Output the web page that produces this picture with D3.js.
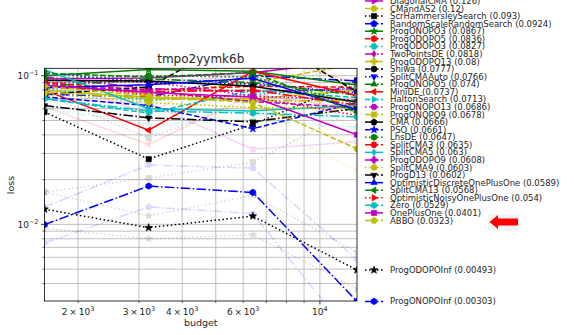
<!DOCTYPE html>
<html lang="en">
<head>
<meta charset="UTF-8">
<title>tmpo2yymk6b</title>
<script src="https://d3js.org/d3.v7.min.js"></script>
<style>
  body { margin: 0; background: #fff; }
  svg { display: block; font-family: "DejaVu Sans", sans-serif; }
</style>
</head>
<body>
<svg id="chart" width="574" height="335"></svg>
<script>
// budgets on the x axis
const budgets = [1600, 3200, 6400, 12800];

// algorithms, in legend order
const algoNames = [
  "DiagonalCMA", "CMandAS2", "ScrHammersleySearch", "RandomScaleRandomSearch",
  "ProgONOPO3", "ProgODOPO5", "ProgODOPO3", "TwoPointsDE", "ProgODOPO13", "Shiwa",
  "SplitCMAAuto", "ProgONOPO5", "MiniDE", "HaltonSearch", "ProgONOPO13", "ProgONOPO9",
  "CMA", "PSO", "LhsDE", "SplitCMA3", "SplitCMA5", "ProgODOPO9", "SplitCMA9", "ProgD13",
  "OptimisticDiscreteOnePlusOne", "SplitCMA13", "OptimisticNoisyOnePlusOne", "Zero",
  "OnePlusOne", "ABBO", "ProgODOPOInf", "ProgONOPOInf"
];

// mean loss per budget, one row per algorithm (last value is the legend score)
const lossValues = [
  [0.095, 0.0965, 0.105, 0.126],
  [0.088, 0.075, 0.09, 0.12],
  [0.057, 0.0275, 0.047, 0.093],
  [0.075, 0.072, 0.1, 0.0924],
  [0.1, 0.11, 0.107, 0.0867],
  [0.09, 0.08, 0.085, 0.0836],
  [0.082, 0.068, 0.075, 0.0827],
  [0.098, 0.082, 0.078, 0.0818],
  [0.08, 0.071, 0.07, 0.08],
  [0.075, 0.084, 0.2, 0.0777],
  [0.105, 0.09, 0.088, 0.0766],
  [0.085, 0.095, 0.09, 0.074],
  [0.08, 0.043, 0.107, 0.0737],
  [0.07, 0.056, 0.08, 0.0713],
  [0.09, 0.091, 0.073, 0.0686],
  [0.078, 0.07, 0.068, 0.0678],
  [0.093, 0.092, 0.085, 0.0666],
  [0.072, 0.063, 0.044, 0.0661],
  [0.095, 0.1, 0.098, 0.0647],
  [0.084, 0.078, 0.08, 0.0635],
  [0.11, 0.06, 0.058, 0.063],
  [0.087, 0.079, 0.067, 0.0608],
  [0.076, 0.066, 0.061, 0.0603],
  [0.063, 0.052, 0.049, 0.0602],
  [0.083, 0.087, 0.096, 0.0589],
  [0.104, 0.098, 0.105, 0.0568],
  [0.09, 0.074, 0.072, 0.054],
  [0.07, 0.058, 0.056, 0.0529],
  [0.086, 0.077, 0.072, 0.0401],
  [0.085, 0.073, 0.066, 0.0323],
  [0.01265, 0.0095, 0.01137, 0.00493],
  [0.00996, 0.0181, 0.0164, 0.00303]
];

// faint spread curves drawn behind some algorithms
const bandNames = ["ProgONOPOInf", "ProgODOPOInf", "ScrHammersleySearch", "MiniDE", "OnePlusOne", "ABBO", "Zero"];
const bandUpper = [
  [0.0131, 0.0251, 0.0239, 0.0058],
  [0.0165, 0.0114, 0.0157, 0.0065],
  [0.075, 0.038, 0.07, 0.13],
  [0.1, 0.055, 0.14, 0.09],
  [0.1, 0.09, 0.1, 0.06],
  [0.1, 0.09, 0.09, 0.045],
  [0.085, 0.07, 0.068, 0.062]
];
const bandLower = [
  [0.0075, 0.0131, 0.0118, 0.0016],
  [0.0094, 0.008, 0.0085, 0.0037],
  [0.0165, 0.0205, 0.0262, 0.06],
  [0.062, 0.0345, 0.075, 0.06],
  [0.07, 0.065, 0.032, 0.036],
  [0.07, 0.058, 0.05, 0.0232],
  [0.06, 0.047, 0.05, 0.045]
];

// axis limits and labelled ticks
const xLimits = [1600, 12800];
const yLimits = [0.00305, 0.1122];
const xLabelTicks = [2000, 3000, 4000, 6000, 10000];
const highlighted = "ABBO";

// style cycles (matplotlib-like)
const colorCycle = ["#bf00bf", "#bfbf00", "#000000", "#0000ff", "#008000", "#ff0000", "#00bfbf"];
const dashCycle = ["", "5.55,2.4", "1.5,2.5", "9.6,2.4,1.5,2.4"];
const markerCycle = ["v", "^", "<", ">", "8", "s", "p", "*", "h", "H", "d", "P", "o"];
const styleOf = i => ({
  color: colorCycle[i % 7],
  dash: dashCycle[i % 4],
  marker: markerCycle[((i - 10) % 13 + 13) % 13]
});

const svg = d3.select("#chart");
const W = 574, H = 335;
const plot = { left: 44.5, right: 357, top: 68.3, bottom: 301 };

const x = d3.scaleLog().domain(xLimits).range([plot.left, plot.right]);
const y = d3.scaleLog().domain(yLimits).range([plot.bottom, plot.top]);

svg.append("rect").attr("width", W).attr("height", H).attr("fill", "#fff");

svg.append("defs").append("clipPath").attr("id", "plotclip")
  .append("rect")
  .attr("x", plot.left).attr("y", plot.top)
  .attr("width", plot.right - plot.left).attr("height", plot.bottom - plot.top);

// grid, major and minor
const grid = svg.append("g").attr("stroke", "#b0b0b0").attr("stroke-width", 0.8);
x.ticks().forEach(t => {
  grid.append("line").attr("x1", x(t)).attr("x2", x(t)).attr("y1", plot.top).attr("y2", plot.bottom);
});
y.ticks().forEach(t => {
  grid.append("line").attr("y1", y(t)).attr("y2", y(t)).attr("x1", plot.left).attr("x2", plot.right);
});

function markerPath(m, r) {
  const poly = (n, rot, rad) => d3.range(n).map(k => {
    const a = rot + 2 * Math.PI * k / n;
    return [rad * Math.sin(a), -rad * Math.cos(a)];
  });
  let pts;
  switch (m) {
    case "o": return d3.symbol(d3.symbolCircle, Math.PI * r * r)();
    case "s": pts = poly(4, Math.PI / 4, r * 1.25); break;
    case "^": pts = poly(3, 0, r * 1.25); break;
    case "v": pts = poly(3, Math.PI, r * 1.25); break;
    case "<": pts = poly(3, -Math.PI / 2, r * 1.25); break;
    case ">": pts = poly(3, Math.PI / 2, r * 1.25); break;
    case "p": pts = poly(5, 0, r * 1.15); break;
    case "h": pts = poly(6, 0, r * 1.1); break;
    case "H": pts = poly(6, Math.PI / 6, r * 1.1); break;
    case "8": pts = poly(8, Math.PI / 8, r * 1.05); break;
    case "*": pts = d3.range(10).map(k => {
      const a = Math.PI * k / 5, rad = k % 2 ? r * 0.55 : r * 1.35;
      return [rad * Math.sin(a), -rad * Math.cos(a)];
    }); break;
    case "d": pts = [[0, -r * 1.2], [r * 0.7, 0], [0, r * 1.2], [-r * 0.7, 0]]; break;
    case "P": {
      const a = r * 1.1, b = r * 0.4;
      pts = [[-b, -a], [b, -a], [b, -b], [a, -b], [a, b], [b, b], [b, a], [-b, a], [-b, b], [-a, b], [-a, -b], [-b, -b]];
      break;
    }
    default: return d3.symbol(d3.symbolCircle, Math.PI * r * r)();
  }
  return "M" + pts.map(p => p.map(v => v.toFixed(2)).join(",")).join("L") + "Z";
}

const line = d3.line().x((d, i) => x(budgets[i])).y(d => y(d));
const plotArea = svg.append("g").attr("clip-path", "url(#plotclip)");

function drawSeries(g, values, st, opacity) {
  const s = g.append("g").attr("opacity", opacity);
  s.append("path")
    .attr("d", line(values))
    .attr("fill", "none")
    .attr("stroke", st.color)
    .attr("stroke-width", 1.5)
    .attr("stroke-dasharray", st.dash || null);
  s.selectAll("path.mk")
    .data(values)
    .join("path")
    .attr("class", "mk")
    .attr("transform", (d, i) => `translate(${x(budgets[i])},${y(d)})`)
    .attr("d", markerPath(st.marker, 3))
    .attr("fill", st.color)
    .attr("stroke", st.color)
    .attr("stroke-width", 0.6);
}

// faint spread curves first
bandNames.forEach((name, b) => {
  const st = styleOf(algoNames.indexOf(name));
  drawSeries(plotArea, bandUpper[b], st, 0.15);
  drawSeries(plotArea, bandLower[b], st, 0.15);
});

lossValues.forEach((vals, i) => drawSeries(plotArea, vals, styleOf(i), 1));

// spines
svg.append("rect")
  .attr("x", plot.left).attr("y", plot.top)
  .attr("width", plot.right - plot.left).attr("height", plot.bottom - plot.top)
  .attr("fill", "none").attr("stroke", "#000").attr("stroke-width", 0.8);

const isPow10 = v => Math.abs(Math.log10(v) - Math.round(Math.log10(v))) < 1e-9;

// x ticks
const xt = svg.append("g");
x.ticks().forEach(t => {
  const len = isPow10(t) ? 3.5 : 2;
  xt.append("line").attr("x1", x(t)).attr("x2", x(t))
    .attr("y1", plot.bottom).attr("y2", plot.bottom + len)
    .attr("stroke", "#000").attr("stroke-width", isPow10(t) ? 0.8 : 0.6);
});
xLabelTicks.forEach(t => {
  const e = Math.floor(Math.log10(t) + 1e-9);
  const m = Math.round(t / Math.pow(10, e));
  const txt = xt.append("text")
    .attr("x", x(t)).attr("y", plot.bottom + 14)
    .attr("text-anchor", "middle")
    .attr("font-size", 9).attr("fill", "#262626");
  txt.append("tspan").text(m === 1 ? "10" : `${m}\u2009×\u200910`);
  txt.append("tspan").attr("dy", -4).attr("font-size", 6.5).text(e);
});

// y ticks
const yt = svg.append("g");
y.ticks().forEach(t => {
  const len = isPow10(t) ? 3.5 : 2;
  yt.append("line").attr("y1", y(t)).attr("y2", y(t))
    .attr("x1", plot.left - len).attr("x2", plot.left)
    .attr("stroke", "#000").attr("stroke-width", isPow10(t) ? 0.8 : 0.6);
  if (isPow10(t)) {
    const e = Math.round(Math.log10(t));
    const txt = yt.append("text")
      .attr("x", plot.left - 6).attr("y", y(t) + 3.5)
      .attr("text-anchor", "end")
      .attr("font-size", 9).attr("fill", "#262626");
    txt.append("tspan").text("10");
    txt.append("tspan").attr("dy", -4).attr("font-size", 6.5).text("\u2212" + Math.abs(e));
  }
});

// title and axis labels
svg.append("text").attr("x", (plot.left + plot.right) / 2).attr("y", 63)
  .attr("text-anchor", "middle").attr("font-size", 12).attr("fill", "#262626")
  .text("tmpo2yymk6b");
svg.append("text").attr("x", (plot.left + plot.right) / 2).attr("y", 326)
  .attr("text-anchor", "middle").attr("font-size", 9.5).attr("fill", "#262626")
  .text("budget");
svg.append("text").attr("transform", "translate(14,185) rotate(-90)")
  .attr("text-anchor", "middle").attr("font-size", 9.5).attr("fill", "#262626")
  .text("loss");

// legend: stacked block, the two best placed at their final loss
const legend = svg.append("g");
const nBlock = 30, blockBottom = 220.5, step = 7.57;
algoNames.forEach((name, i) => {
  const st = styleOf(i);
  const vals = lossValues[i];
  const ly = i < nBlock ? blockBottom - (nBlock - 1 - i) * step : y(vals[vals.length - 1]);
  const g = legend.append("g").attr("transform", `translate(0,${ly})`);
  g.append("line").attr("x1", 365).attr("x2", 383).attr("y1", 0).attr("y2", 0)
    .attr("stroke", st.color).attr("stroke-width", 1.5)
    .attr("stroke-dasharray", st.dash || null);
  g.append("path").attr("transform", "translate(374,0)")
    .attr("d", markerPath(st.marker, 3))
    .attr("fill", st.color).attr("stroke", st.color).attr("stroke-width", 0.6);
  g.append("text").attr("x", 390).attr("y", 3)
    .attr("font-size", 8.5).attr("fill", "#262626")
    .text(`${name} (${vals[vals.length - 1]})`);
  if (name === highlighted) {
    const ag = g.append("g").attr("transform", "translate(0,1.5)");
    ag.append("rect").attr("x", 488).attr("y", -8).attr("width", 31).attr("height", 17).attr("fill", "#f4f4f4");
    ag.append("path")
      .attr("d", "M489.5,0 L498,-7 L498,-3.5 L518,-3.5 L518,3.5 L498,3.5 L498,7 Z")
      .attr("fill", "#ff0000");
  }
});
</script>
</body>
</html>
